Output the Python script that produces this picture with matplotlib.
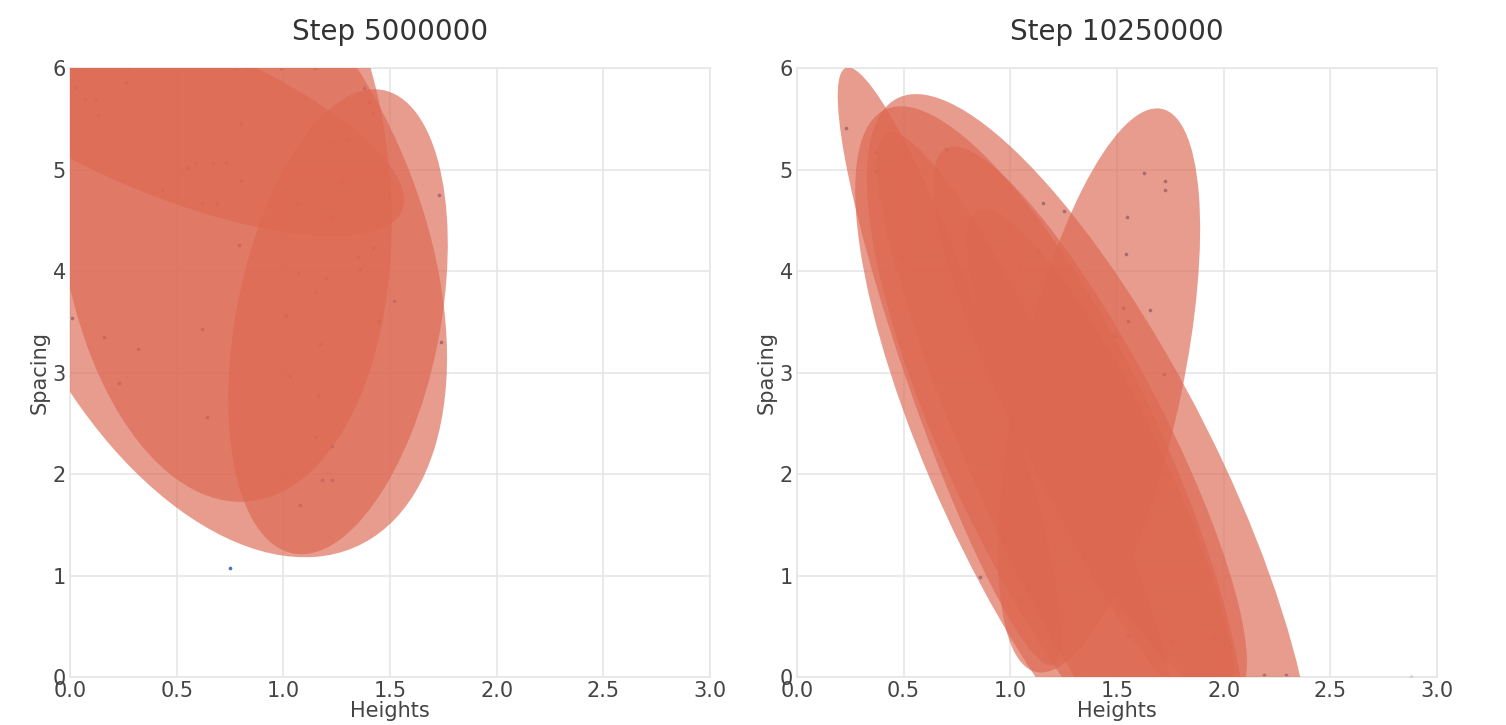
import numpy as np
import matplotlib
matplotlib.use("Agg")
import matplotlib.pyplot as plt
from matplotlib.patches import Ellipse

# mixture components (means / covariances) for the two training steps
titles = ["Step 5000000", "Step 10250000"]

means_5m = [(0.47, 5.52), (1.256, 3.50), (0.656, 4.46), (0.72, 4.79)]
covs_5m = [
    [[1.2007, -0.900], [-0.900, 1.3853]],
    [[0.2649, 0.3918], [0.3918, 5.246]],
    [[1.2345, -1.458], [-1.458, 10.76]],
    [[0.6203, -0.2413], [-0.2413, 9.388]],
]

means_10m = [(0.715, 3.059), (1.374, 1.970), (1.416, 2.823), (1.191, 2.059),
             (1.085, 2.182), (1.374, 2.502), (1.425, 2.099)]
covs_10m = [
    [[0.2748, -1.3977], [-1.3977, 8.681]],
    [[1.0953, -3.078], [-3.078, 14.237]],
    [[0.2244, 0.7538], [0.7538, 7.725]],
    [[0.8431, -2.5117], [-2.5117, 12.706]],
    [[0.5065, -2.0455], [-2.0455, 10.141]],
    [[0.5407, -1.7334], [-1.7334, 7.416]],
    [[0.3952, -1.374], [-1.374, 6.323]],
]

# observed (height, spacing) samples
heights_5m = [0.26, 0.07, 0.12, 0.13, 0.80, 0.55, 0.59, 0.67, 0.73, 0.80, 0.43, 0.62,
              0.69, 0.79, 1.22, 1.30, 1.27, 1.07, 1.23, 1.38, 1.40, 1.42, 1.73, 1.42,
              1.35, 1.36, 1.07, 1.20, 1.52, 1.01, 1.45, 0.01, 0.16, 0.62, 0.32, 1.17,
              1.74, 0.23, 1.03, 1.15, 0.64, 1.16, 1.15, 1.23, 1.18, 1.23, 1.08, 0.75,
              0.27, 0.78, 0.83, 0.99, 1.15, 0.03]
spacing_5m = [5.86, 5.69, 5.69, 5.54, 5.45, 5.01, 5.06, 5.06, 5.07, 4.89, 4.80, 4.67,
              4.67, 4.26, 5.26, 5.30, 4.89, 4.66, 4.53, 5.80, 5.67, 5.56, 4.75, 4.23,
              4.14, 4.02, 3.98, 3.93, 3.70, 3.57, 3.51, 3.54, 3.35, 3.43, 3.23, 3.28,
              3.30, 2.90, 2.97, 3.79, 2.56, 2.77, 2.36, 2.28, 1.94, 1.94, 1.69, 1.07,
              6.00, 6.00, 6.00, 6.00, 6.00, 5.80]

heights_10m = [0.23, 0.37, 0.37, 0.49, 0.70, 1.155, 1.25, 1.545, 1.54, 1.627, 1.725,
               1.725, 1.13, 1.045, 1.655, 1.553, 1.53, 1.49, 1.72, 1.545, 1.60, 0.858,
               1.05, 1.52, 1.57, 1.55, 1.76, 1.95, 2.03, 2.19, 2.29, 1.17, 1.11, 2.88]
spacing_10m = [5.41, 5.17, 4.99, 4.14, 5.20, 4.67, 4.59, 4.53, 4.17, 4.97, 4.89,
               4.80, 4.20, 4.05, 3.62, 3.51, 3.64, 3.36, 2.99, 2.31, 2.12, 0.99,
               0.77, 0.87, 0.63, 0.40, 0.35, 0.39, 0.30, 0.02, 0.02, 1.20, 1.43, 0.0]

ell_color = "#dd6851"
dot_color = "#4c72b0"
text_color = "#444444"
grid_color = "#e6e6e6"


def draw_panel(ax, means, covs, xs, ys, title):
    ax.scatter(xs, ys, s=7, color=dot_color, linewidths=0, zorder=2)
    for m, c in zip(means, covs):
        v, w = np.linalg.eigh(np.array(c))
        angle = np.degrees(np.arctan2(w[1, 1], w[0, 1]))
        ell = Ellipse(m, 2 * np.sqrt(v[1]), 2 * np.sqrt(v[0]), angle=angle,
                      facecolor=ell_color, edgecolor="none", alpha=0.65, zorder=3)
        ax.add_patch(ell)

    ax.set_xlim(0, 3)
    ax.set_ylim(0, 6)
    ax.set_xticks(np.arange(0, 3.01, 0.5))
    ax.set_yticks(range(7))
    ax.set_xticklabels([f"{t:.1f}" for t in np.arange(0, 3.01, 0.5)])
    ax.grid(True, color=grid_color, linewidth=1.2, zorder=0)
    ax.set_axisbelow(True)
    for sp in ax.spines.values():
        sp.set_color(grid_color)
        sp.set_linewidth(1.2)
    ax.tick_params(length=0, pad=3, labelsize=15, colors=text_color)
    ax.set_xlabel("Heights", fontsize=15, color=text_color, labelpad=0)
    ax.set_ylabel("Spacing", fontsize=15, color=text_color, labelpad=2)
    ax.set_title(title, fontsize=20, color="#333333", pad=20)


fig = plt.figure(figsize=(15.06, 7.25), dpi=100)
ax1 = fig.add_axes([0.0465, 0.0662, 0.425, 0.84])
ax2 = fig.add_axes([0.5292, 0.0662, 0.425, 0.84])

draw_panel(ax1, means_5m, covs_5m, heights_5m, spacing_5m, titles[0])
draw_panel(ax2, means_10m, covs_10m, heights_10m, spacing_10m, titles[1])

fig.savefig("out.png", dpi=100)
